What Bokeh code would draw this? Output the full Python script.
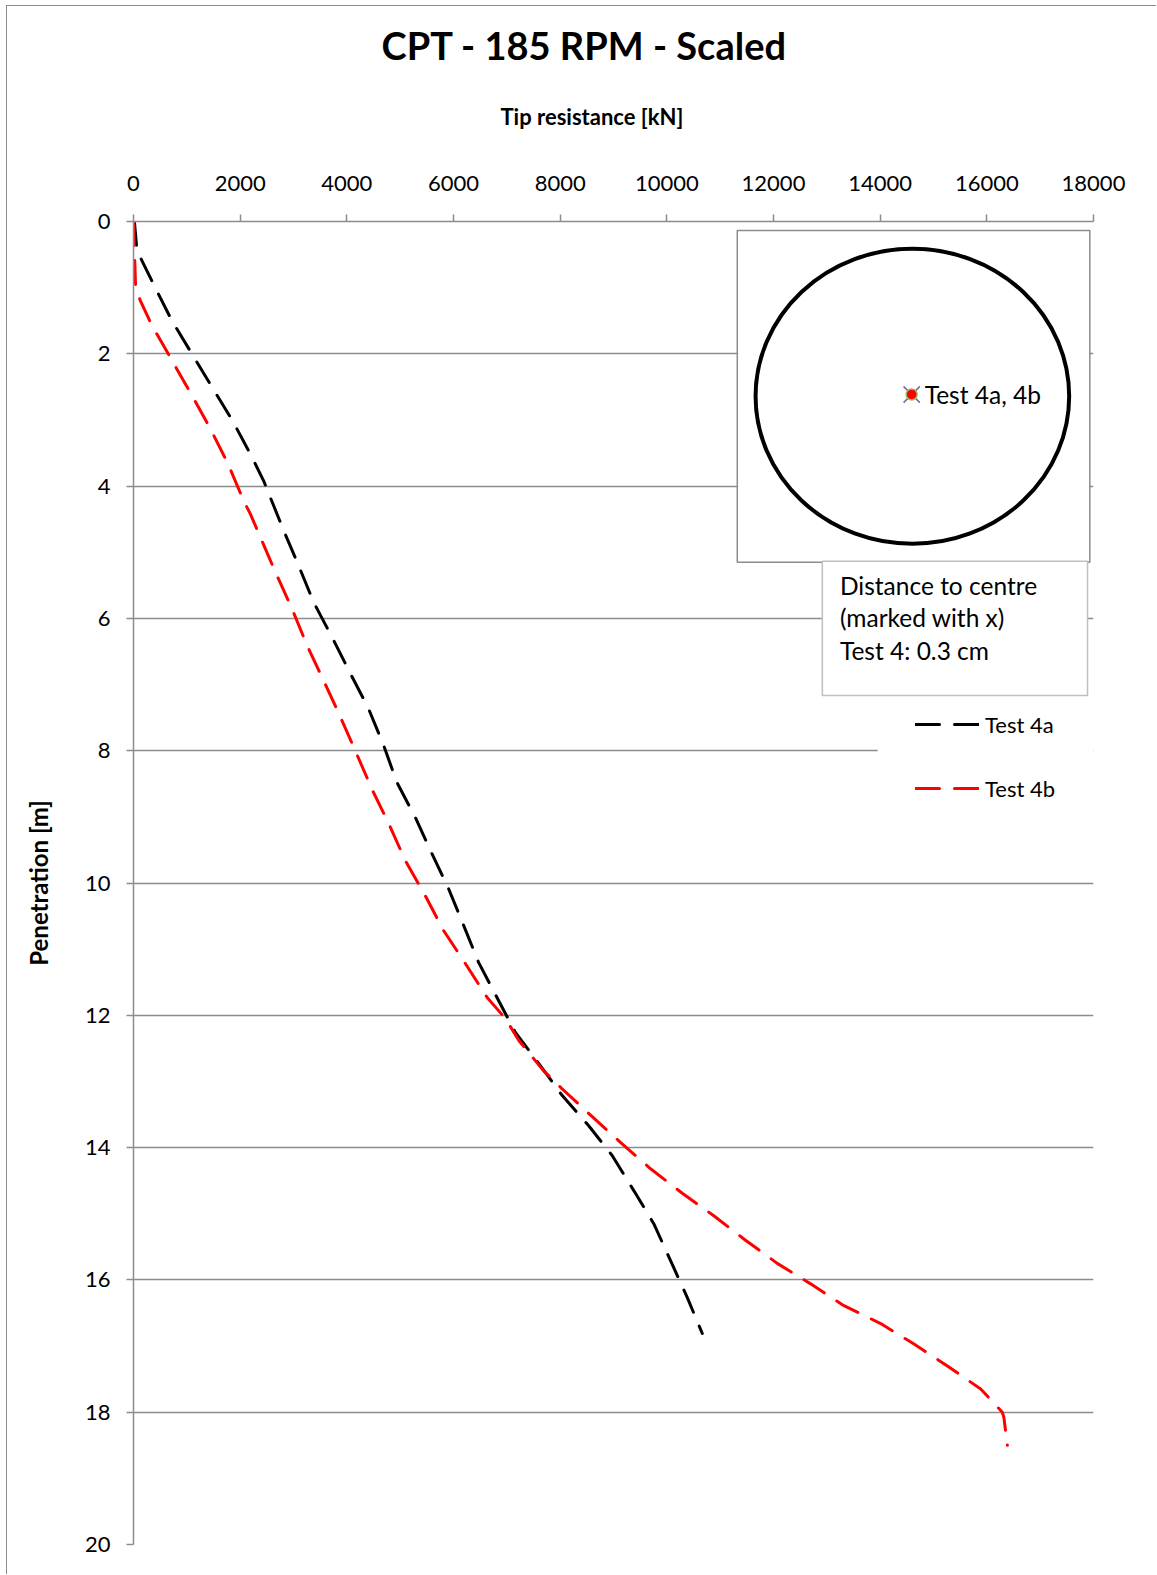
from bokeh.plotting import figure
from bokeh.models import Range1d, FixedTicker, Title, Legend, LegendItem
from bokeh.embed import file_html
from bokeh.resources import INLINE
from bokeh.core.properties import value

# ---- data ----
test4a_tip = [0, 20, 65, 370, 720, 1095, 1470, 1870, 2220, 2440, 2815, 3095, 3380, 3720,
              4065, 4410, 4690, 4940, 5285, 5580, 5910, 6190, 6470, 6815, 7160, 7600,
              8035, 8535, 8975, 9380, 9755, 10070, 10380, 10665]
test4a_pen = [0, 0.03, 0.44, 0.94, 1.50, 2.00, 2.50, 3.03, 3.56, 3.92, 4.67, 5.20, 5.76, 6.28,
              6.83, 7.37, 7.92, 8.48, 9.01, 9.53, 10.09, 10.64, 11.20, 11.73, 12.26, 12.73,
              13.21, 13.67, 14.12, 14.65, 15.15, 15.71, 16.26, 16.81]
test4b_tip = [0, 20, 40, 130, 345, 700, 1075, 1440, 1770, 2065, 2190, 2660, 2970, 3255, 3565,
              3880, 4180, 4470, 4785, 5095, 5470, 5815, 6225, 6630, 6975, 7225, 7690, 8035,
              8570, 9130, 9695, 10290, 10880, 11475, 12070, 12695, 13320, 14010, 14635,
              15260, 15885, 16290, 16320, 16385]
test4b_pen = [0, 0.5, 1.0, 1.20, 1.57, 2.07, 2.60, 3.13, 3.66, 4.22, 4.42, 5.30, 5.85, 6.41, 6.94,
              7.49, 8.04, 8.58, 9.10, 9.66, 10.19, 10.72, 11.22, 11.73, 12.05, 12.38, 12.84, 13.11,
              13.51, 13.92, 14.32, 14.69, 15.03, 15.40, 15.75, 16.06, 16.39, 16.66, 16.97,
              17.30, 17.65, 18.00, 18.08, 18.50]
x_ticks = [0, 2000, 4000, 6000, 8000, 10000, 12000, 14000, 16000, 18000]
y_ticks = [0, 2, 4, 6, 8, 10, 12, 14, 16, 18, 20]
series_names = ["Test 4a", "Test 4b"]
title_text = "CPT - 185 RPM - Scaled"
x_label = "Tip resistance [kN]"
y_label = "Penetration [m]"
inset_label = "Test 4a, 4b"
note_lines = ["Distance to centre", "(marked with x)", "Test 4: 0.3 cm"]

FONT = "Lato"
GRID = "#8c8c8c"

W, H = 1150, 1569
p = figure(width=W, height=H, output_backend="svg", toolbar_location=None,
           x_range=Range1d(0, 18000), y_range=Range1d(20, 0),
           x_axis_location="above",
           min_border_left=126, min_border_right=64, min_border_top=215, min_border_bottom=31)
p.outline_line_color = None
p.background_fill_color = "white"
p.border_fill_color = "white"
p.styles = {"margin-left": "6px", "margin-top": "5px",
            "border-left": "1px solid #8c8c8c", "border-top": "1px solid #8c8c8c"}

# axes
xa = p.xaxis[0]
xa.ticker = FixedTicker(ticks=x_ticks)
ya = p.yaxis[0]
ya.ticker = FixedTicker(ticks=y_ticks)
for ax in (xa, ya):
    ax.axis_line_color = GRID
    ax.axis_line_width = 1.5
    ax.major_tick_line_color = GRID
    ax.major_tick_line_width = 1.5
    ax.major_tick_in = 0
    ax.major_tick_out = 7
    ax.minor_tick_line_color = None
    ax.major_label_text_font = FONT
    ax.major_label_text_font_size = "22px"
    ax.major_label_text_color = "black"
xa.major_label_standoff = 24
ya.major_label_standoff = 16
ya.axis_label = y_label
ya.axis_label_text_font = FONT
ya.axis_label_text_font_style = "bold"
ya.axis_label_text_font_size = "24px"
ya.axis_label_text_color = "black"
ya.axis_label_standoff = 29

p.xgrid.grid_line_color = None
p.ygrid.ticker = FixedTicker(ticks=y_ticks)
p.ygrid.grid_line_color = GRID
p.ygrid.grid_line_width = 1.5
p.ygrid.grid_line_alpha = 1.0

# titles
p.add_layout(Title(text=x_label, align="left", offset=367, text_font=FONT,
                   text_font_style="bold", text_font_size="22px", text_color="black",
                   standoff=86), "above")
p.add_layout(Title(text=title_text, align="left", offset=248, text_font=FONT,
                   text_font_style="bold", text_font_size="38px", text_color="black",
                   standoff=-21), "above")

# inset: specimen outline with test position
p.quad(left=[11321], right=[17931], top=[0.136], bottom=[5.150],
       fill_color="white", line_color=GRID, line_width=1.5)
p.ellipse(x=[14604], y=[2.642], width=[5880], height=[4.46],
          fill_color=None, line_color="black", line_width=4)
p.scatter(x=[14591], y=[2.615], marker="x", size=23, line_color="#8064A2", line_width=1.5)
p.scatter(x=[14591], y=[2.615], marker="circle", size=11, fill_color="red",
          line_color="#9BBB59", line_width=1.5)
p.text(x=[14835], y=[2.62], text=[inset_label], text_font=value(FONT),
       text_font_size="24.5px", text_baseline="middle", text_align="left", text_color="black")

# note box
p.quad(left=[12916], right=[17888], top=[5.135], bottom=[7.166],
       fill_color="white", line_color="#BFBFBF", line_width=1.5)
p.text(x=[13246] * 3, y=[5.503, 5.991, 6.485], text=note_lines, text_font=value(FONT),
       text_font_size="24.5px", text_baseline="middle", text_align="left", text_color="black")

# legend background
p.quad(left=[13953], right=[18000], top=[7.24], bottom=[8.98],
       fill_color="white", line_color=None)

# data lines
ra = p.line(test4a_tip, test4a_pen, line_color="black", line_width=3,
            line_dash="24 15", line_cap="round")
rb = p.line(test4b_tip, test4b_pen, line_color="red", line_width=3,
            line_dash="24 15", line_cap="round")

legend = Legend(items=[LegendItem(label=series_names[0], renderers=[ra]),
                       LegendItem(label=series_names[1], renderers=[rb])],
                location=(782, 741), orientation="vertical",
                glyph_width=64, glyph_height=30, label_height=30, spacing=34,
                label_standoff=6, padding=0, margin=0,
                border_line_color=None, background_fill_alpha=0,
                label_text_font=FONT, label_text_font_size="22px", label_text_color="black")
p.add_layout(legend, "center")

open("out.html", "w").write(file_html(p, INLINE))
